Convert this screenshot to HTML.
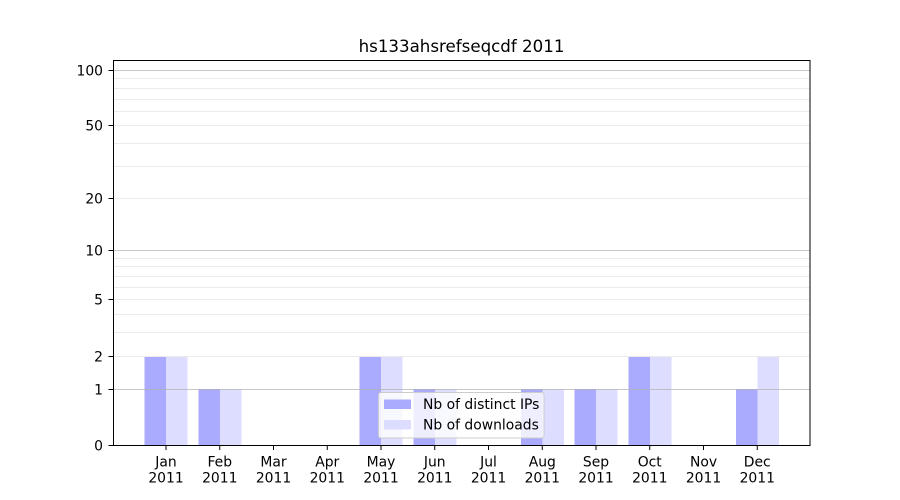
<!DOCTYPE html>
<html><head><meta charset="utf-8"><style>
html,body{margin:0;padding:0;background:#fff;}
svg{display:block;font-family:"DejaVu Sans","Liberation Sans",sans-serif;}
</style></head><body>
<svg width="900" height="500" viewBox="0 0 900 500" xmlns="http://www.w3.org/2000/svg">
<rect x="0" y="0" width="900" height="500" fill="#fff"/>
<text x="461.5" y="52" font-size="16.67" text-anchor="middle" fill="#000">hs133ahsrefseqcdf 2011</text>
<!-- bars -->
<g shape-rendering="crispEdges">
<rect x="144.5" y="356" width="21.5" height="89" fill="#aaaaff"/><rect x="166" y="356" width="21.5" height="89" fill="#ddddff"/>
<rect x="198.25" y="389" width="21.5" height="56" fill="#aaaaff"/><rect x="219.75" y="389" width="21.5" height="56" fill="#ddddff"/>
<rect x="359.5" y="356" width="21.5" height="89" fill="#aaaaff"/><rect x="381" y="356" width="21.5" height="89" fill="#ddddff"/>
<rect x="413.25" y="389" width="21.5" height="56" fill="#aaaaff"/><rect x="434.75" y="389" width="21.5" height="56" fill="#ddddff"/>
<rect x="520.75" y="389" width="21.5" height="56" fill="#aaaaff"/><rect x="542.25" y="389" width="21.5" height="56" fill="#ddddff"/>
<rect x="574.5" y="389" width="21.5" height="56" fill="#aaaaff"/><rect x="596" y="389" width="21.5" height="56" fill="#ddddff"/>
<rect x="628.25" y="356" width="21.5" height="89" fill="#aaaaff"/><rect x="649.75" y="356" width="21.5" height="89" fill="#ddddff"/>
<rect x="735.75" y="389" width="21.5" height="56" fill="#aaaaff"/><rect x="757.25" y="356" width="21.5" height="89" fill="#ddddff"/>
</g>
<!-- minor grid -->
<g stroke="#ebebeb" stroke-width="1" shape-rendering="crispEdges">
<line x1="113" x2="810" y1="356.5" y2="356.5"/>
<line x1="113" x2="810" y1="332.5" y2="332.5"/>
<line x1="113" x2="810" y1="314.5" y2="314.5"/>
<line x1="113" x2="810" y1="299.5" y2="299.5"/>
<line x1="113" x2="810" y1="287.5" y2="287.5"/>
<line x1="113" x2="810" y1="276.5" y2="276.5"/>
<line x1="113" x2="810" y1="266.5" y2="266.5"/>
<line x1="113" x2="810" y1="258.5" y2="258.5"/>
<line x1="113" x2="810" y1="198.5" y2="198.5"/>
<line x1="113" x2="810" y1="166.5" y2="166.5"/>
<line x1="113" x2="810" y1="143.5" y2="143.5"/>
<line x1="113" x2="810" y1="125.5" y2="125.5"/>
<line x1="113" x2="810" y1="111.5" y2="111.5"/>
<line x1="113" x2="810" y1="99.5" y2="99.5"/>
<line x1="113" x2="810" y1="88.5" y2="88.5"/>
<line x1="113" x2="810" y1="78.5" y2="78.5"/>
</g>
<!-- major grid -->
<g stroke="#b0b0b0" stroke-opacity="0.7" stroke-width="1" shape-rendering="crispEdges">
<line x1="113" x2="810" y1="389.5" y2="389.5"/>
<line x1="113" x2="810" y1="250.5" y2="250.5"/>
<line x1="113" x2="810" y1="70.5" y2="70.5"/>
</g>
<!-- spines -->
<rect x="113.5" y="60.5" width="696.5" height="385" fill="none" stroke="#000" stroke-width="1" shape-rendering="crispEdges"/>
<!-- y ticks -->
<g stroke="#000" stroke-width="1" shape-rendering="crispEdges">
<line x1="108.5" x2="113" y1="445.5" y2="445.5"/>
<line x1="108.5" x2="113" y1="389.5" y2="389.5"/>
<line x1="108.5" x2="113" y1="356.5" y2="356.5"/>
<line x1="108.5" x2="113" y1="299.5" y2="299.5"/>
<line x1="108.5" x2="113" y1="250.5" y2="250.5"/>
<line x1="108.5" x2="113" y1="198.5" y2="198.5"/>
<line x1="108.5" x2="113" y1="125.5" y2="125.5"/>
<line x1="108.5" x2="113" y1="70.5" y2="70.5"/>
</g>
<g font-size="13.9" text-anchor="end" fill="#000">
<text x="103" y="450.5">0</text>
<text x="103" y="394.5">1</text>
<text x="103" y="361.5">2</text>
<text x="103" y="304.5">5</text>
<text x="103" y="255.5">10</text>
<text x="103" y="203.5">20</text>
<text x="103" y="130.5">50</text>
<text x="103" y="75.5">100</text>
</g>
<!-- x ticks -->
<g stroke="#000" stroke-width="1">
<line x1="166" x2="166" y1="445" y2="450"/>
<line x1="219.75" x2="219.75" y1="445" y2="450"/>
<line x1="273.5" x2="273.5" y1="445" y2="450"/>
<line x1="327.25" x2="327.25" y1="445" y2="450"/>
<line x1="381" x2="381" y1="445" y2="450"/>
<line x1="434.75" x2="434.75" y1="445" y2="450"/>
<line x1="488.5" x2="488.5" y1="445" y2="450"/>
<line x1="542.25" x2="542.25" y1="445" y2="450"/>
<line x1="596" x2="596" y1="445" y2="450"/>
<line x1="649.75" x2="649.75" y1="445" y2="450"/>
<line x1="703.5" x2="703.5" y1="445" y2="450"/>
<line x1="757.25" x2="757.25" y1="445" y2="450"/>
</g>
<g font-size="13.9" text-anchor="middle" fill="#000">
<text x="166" y="466.5">Jan</text><text x="166" y="482.5">2011</text>
<text x="219.75" y="466.5">Feb</text><text x="219.75" y="482.5">2011</text>
<text x="273.5" y="466.5">Mar</text><text x="273.5" y="482.5">2011</text>
<text x="327.25" y="466.5">Apr</text><text x="327.25" y="482.5">2011</text>
<text x="381" y="466.5">May</text><text x="381" y="482.5">2011</text>
<text x="434.75" y="466.5">Jun</text><text x="434.75" y="482.5">2011</text>
<text x="488.5" y="466.5">Jul</text><text x="488.5" y="482.5">2011</text>
<text x="542.25" y="466.5">Aug</text><text x="542.25" y="482.5">2011</text>
<text x="596" y="466.5">Sep</text><text x="596" y="482.5">2011</text>
<text x="649.75" y="466.5">Oct</text><text x="649.75" y="482.5">2011</text>
<text x="703.5" y="466.5">Nov</text><text x="703.5" y="482.5">2011</text>
<text x="757.25" y="466.5">Dec</text><text x="757.25" y="482.5">2011</text>
</g>
<!-- legend -->
<rect x="378.5" y="392.5" width="165.5" height="45.5" rx="2.5" ry="2.5" fill="#fff" fill-opacity="0.8" stroke="#cccccc" stroke-width="1"/>
<rect x="384" y="399.5" width="27" height="9.5" fill="#aaaaff"/>
<rect x="384" y="420" width="27" height="9.5" fill="#ddddff"/>
<g font-size="13.9" fill="#000">
<text x="423" y="409">Nb of distinct IPs</text>
<text x="423" y="429.5">Nb of downloads</text>
</g>
</svg>
</body></html>
